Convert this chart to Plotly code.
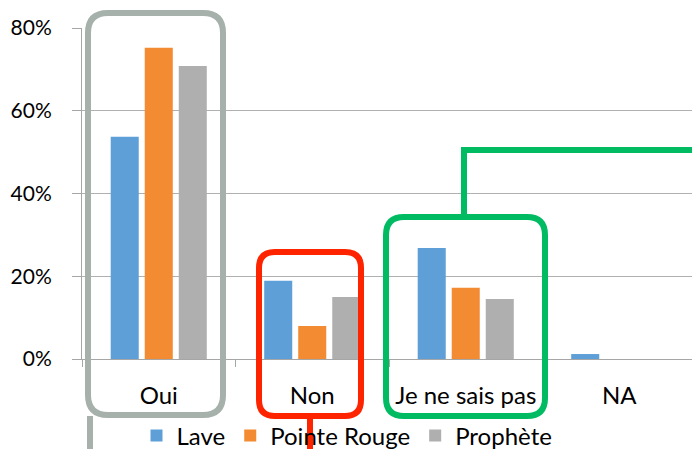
import plotly.graph_objects as go

categories = ["Oui", "Non", "Je ne sais pas", "NA"]
lave = [0.537, 0.189, 0.268, 0.012]
pointe_rouge = [0.752, 0.080, 0.172, 0.0]
prophete = [0.708, 0.150, 0.145, 0.0]
y_ticks = [0, 0.2, 0.4, 0.6, 0.8]
y_tick_labels = ["0%", "20%", "40%", "60%", "80%"]

FONT = "Lato"
W, H = 692, 449
L, T, B = 82, 28, 90
PW = W - L
PH = H - T - B


def px(x):
    return (x - L) / PW


def py(y):
    return (H - B - y) / PH


fig = go.Figure()
fig.add_trace(go.Bar(name="Lave", x=categories, y=lave, marker=dict(color="#5e9fd8", line=dict(width=0))))
fig.add_trace(go.Bar(name="Pointe Rouge", x=categories, y=pointe_rouge, marker=dict(color="#f28b32", line=dict(width=0))))
fig.add_trace(go.Bar(name="Prophète", x=categories, y=prophete, marker=dict(color="#afafaf", line=dict(width=0))))


def rounded_rect(x0, y0, x1, y1, r):
    return (
        f"M {px(x0 + r)},{py(y0)} L {px(x1 - r)},{py(y0)} "
        f"Q {px(x1)},{py(y0)} {px(x1)},{py(y0 + r)} "
        f"L {px(x1)},{py(y1 - r)} "
        f"Q {px(x1)},{py(y1)} {px(x1 - r)},{py(y1)} "
        f"L {px(x0 + r)},{py(y1)} "
        f"Q {px(x0)},{py(y1)} {px(x0)},{py(y1 - r)} "
        f"L {px(x0)},{py(y0 + r)} "
        f"Q {px(x0)},{py(y0)} {px(x0 + r)},{py(y0)} Z"
    )


shapes = []
gray = "#a5b1aa"
red = "#ff2400"
green = "#00bb62"
shapes.append(dict(type="path", xref="paper", yref="paper", path=rounded_rect(88, 13, 223, 415, 20),
                   line=dict(color=gray, width=6)))
shapes.append(dict(type="line", xref="paper", yref="paper", x0=px(90), x1=px(90), y0=py(416), y1=py(460),
                   line=dict(color=gray, width=6)))
shapes.append(dict(type="path", xref="paper", yref="paper", path=rounded_rect(259, 252, 361, 416, 16),
                   line=dict(color=red, width=6)))
shapes.append(dict(type="line", xref="paper", yref="paper", x0=px(310), x1=px(310), y0=py(418), y1=py(460),
                   line=dict(color=red, width=6)))
shapes.append(dict(type="path", xref="paper", yref="paper", path=rounded_rect(386, 217, 545, 416, 18),
                   line=dict(color=green, width=6)))
shapes.append(dict(type="path", xref="paper", yref="paper",
                   path=f"M {px(464)},{py(217)} L {px(464)},{py(150)} L {px(700)},{py(150)}",
                   line=dict(color=green, width=6)))

fig.update_layout(
    width=W, height=H,
    margin=dict(l=L, r=0, t=T, b=B, pad=0, autoexpand=False),
    paper_bgcolor="white", plot_bgcolor="white",
    barmode="group", bargap=0.335, bargroupgap=0.176,
    font=dict(family=FONT, size=21, color="#000000"),
    showlegend=True,
    legend=dict(orientation="h", xref="container", yref="container",
                x=347 / W, xanchor="center", y=(H - 436) / H, yanchor="middle",
                font=dict(family=FONT, size=24), itemwidth=30, tracegroupgap=0,
                bgcolor="rgba(0,0,0,0)"),
    shapes=shapes,
    xaxis=dict(range=[-0.5, 3.474], showgrid=False, showline=True, linecolor="#a6a6a6", linewidth=1,
               ticks="outside", tickson="boundaries", ticklen=7, tickcolor="#a6a6a6",
               ticklabelstandoff=15, tickfont=dict(family=FONT, size=24), fixedrange=True),
    yaxis=dict(range=[0, 0.8], tickvals=y_ticks, ticktext=y_tick_labels, showgrid=True,
               gridcolor="#b0b0b0", gridwidth=1, showline=True, linecolor="#a6a6a6", linewidth=1,
               ticks="outside", ticklen=9, tickcolor="#a6a6a6", ticklabelstandoff=16,
               zeroline=False, tickfont=dict(family=FONT, size=21), fixedrange=True),
)

fig.write_html("out.html", config={"displayModeBar": False},
               post_script="document.body.style.margin='0';document.body.style.overflow='hidden';")
